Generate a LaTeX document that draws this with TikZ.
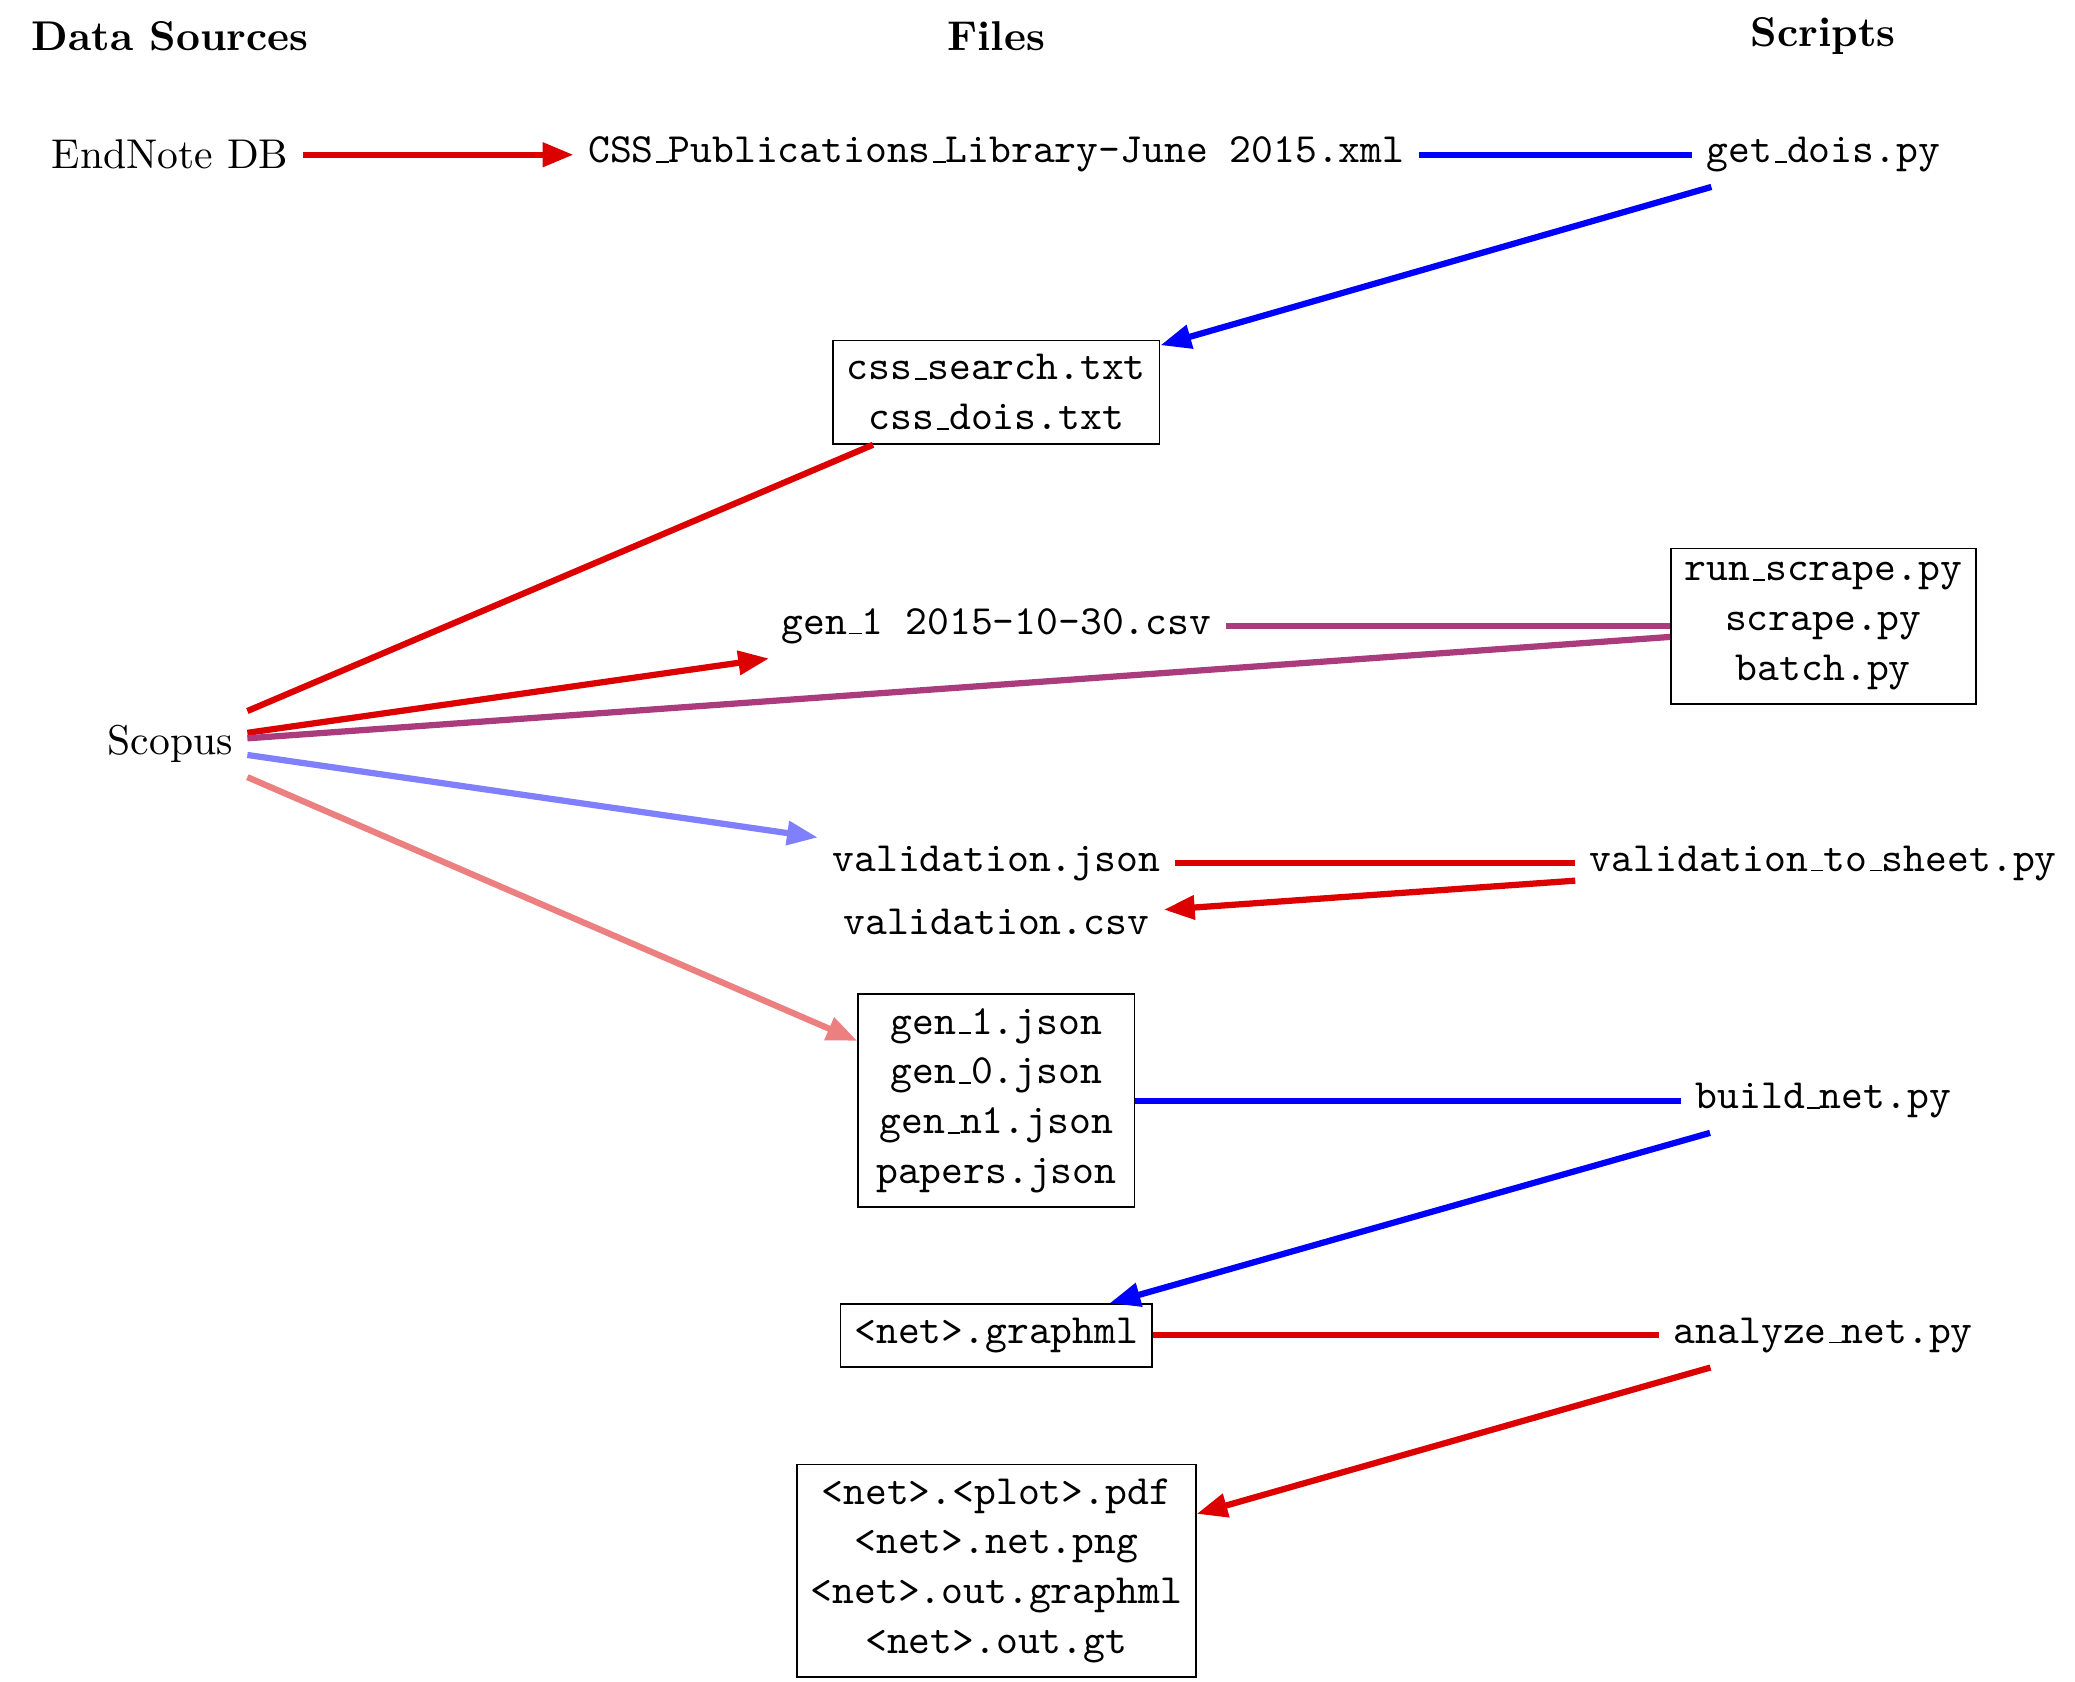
\documentclass[tikz,border=0pt]{standalone}
\usetikzlibrary{arrows.meta}
\definecolor{cred}{RGB}{220,0,0}
\definecolor{cblue}{RGB}{0,0,255}
\definecolor{cpurple}{RGB}{170,60,125}
\definecolor{clblue}{RGB}{128,128,255}
\definecolor{clred}{RGB}{236,128,128}
\newcommand{\tus}{\leavevmode\kern.06em\vbox{\hrule width.3em}}
\begin{document}
\begin{tikzpicture}[x=1pt,y=-1pt,
  every node/.style={inner sep=3.333pt},
  hdr/.style={font=\bfseries},
  file/.style={font=\ttfamily},
  filebox/.style={font=\ttfamily,draw,align=center,line width=0.4pt},
  conn/.style={line width=1.5pt},
  arr/.style={conn,-{Triangle[length=7.4pt,width=5.6pt]}}]
\useasboundingbox (0,0) rectangle (498.8,404.3);
% headers
\node[hdr] (hds) at (40.9,8.7) {Data Sources};
\node[hdr] (hf) at (239.5,8.7) {Files};
\node[hdr] (hs) at (438.3,8.7) {Scripts};
% row 1
\node (endnote) at (40.9,37.2) {EndNote DB};
\node[file] (xml) at (239.5,37.2) {CSS\tus Publications\tus Library-June 2015.xml};
\node[file] (getdois) at (438.3,37.2) {get\tus dois.py};
% css box
\node[filebox] (css) at (239.5,94.3) {css\tus search.txt\\css\tus dois.txt};
% row 3
\node[file] (csv) at (239.5,150.5) {gen\tus 1 2015-10-30.csv};
\node[filebox] (scrape) at (438.3,150.5) {run\tus scrape.py\\scrape.py\\batch.py};
% scopus
\node (scopus) at (40.9,178.8) {Scopus};
% validation
\node[file] (vjson) at (239.5,207.5) {validation.json};
\node[file] (vts) at (438.3,207.5) {validation\tus to\tus sheet.py};
\node[file] (vcsv) at (239.5,221.5) {validation.csv};
% gen json
\node[filebox,minimum width=66.4pt] (genjson) at (239.5,264.6) {gen\tus 1.json\\gen\tus 0.json\\gen\tus n1.json\\papers.json};
\node[file] (buildnet) at (438.3,264.6) {build\tus net.py};
% graphml
\node[filebox] (graphml) at (239.5,321) {<net>.graphml};
\node[file] (analyze) at (438.3,321) {analyze\tus net.py};
% outputs
\node[filebox] (outbox) at (239.5,377.6) {<net>.<plot>.pdf\\<net>.net.png\\<net>.out.graphml\\<net>.out.gt};
% connectors
\draw[arr,cred] (endnote) -- (xml);
\draw[conn,cblue] (xml) -- (getdois);
\draw[arr,cblue] (getdois) -- (css);
\draw[conn,cred] (scopus) -- (css);
\draw[arr,cred] (scopus) -- (csv);
\draw[conn,cpurple] (csv) -- (scrape);
\draw[conn,cpurple] (scopus) -- (scrape);
\draw[arr,clblue] (scopus) -- (vjson);
\draw[arr,clred] (scopus) -- (genjson);
\draw[conn,cred] (vjson) -- (vts);
\draw[arr,cred] (vts) -- (vcsv);
\draw[conn,cblue] (genjson) -- (buildnet);
\draw[arr,cblue] (buildnet) -- (graphml);
\draw[conn,cred] (graphml) -- (analyze);
\draw[arr,cred] (analyze) -- (outbox);
\end{tikzpicture}
\end{document}
